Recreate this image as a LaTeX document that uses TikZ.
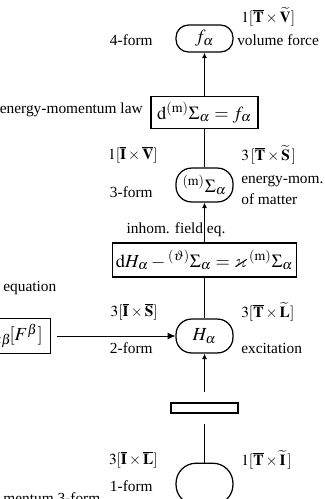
\documentclass[tikz,border=0pt]{standalone}
\usepackage{amsmath,amssymb}
\usepackage{mathptmx}
\usepackage[no-math]{fontspec}
\setmainfont{Liberation Serif}
\usetikzlibrary{arrows.meta,positioning}

\begin{document}
\begin{tikzpicture}[>=Latex,x=0.65pt,y=-0.65pt,
  formnode/.style={draw,line width=0.8pt,rounded corners=10pt,minimum width=37pt,minimum height=22pt,inner sep=1pt,font=\large},
  lawbox/.style={draw,line width=0.8pt,minimum height=20.5pt,inner sep=2pt,font=\large},
  lbl/.style={inner sep=0pt,font=\normalsize},
  arr/.style={-{Latex[length=3.6pt,width=3.2pt]},line width=0.6pt},
  link/.style={line width=0.6pt}]
\useasboundingbox (0,0) rectangle (325,499);
\clip (0,0) rectangle (325,499);
\node[formnode,minimum height=17.5pt,rounded corners=8pt] (fa) at (204.5,38.5) {$f_\alpha$};
\node[lawbox,minimum width=69.5pt] (emlaw) at (204.5,112.5) {$\mathrm{d}{}^{(\mathrm{m})}\Sigma_\alpha = f_\alpha$};
\node[formnode] (sigm) at (204.5,185) {${}^{(\mathrm{m})}\Sigma_\alpha$};
\node[lawbox,minimum width=119pt,minimum height=22pt] (fieldeq) at (204.5,260) {$\mathrm{d}H_\alpha - {}^{(\vartheta)}\Sigma_\alpha = \varkappa\,{}^{(\mathrm{m})}\Sigma_\alpha$};
\node[formnode] (hexc) at (204.5,336) {$H_\alpha$};
\node[lawbox,anchor=east,text width=40pt,align=right,inner xsep=5pt,minimum height=22.5pt] (constbox) at (51,336) {${}_{\alpha\beta}\![F^{\beta}]$};
\node[draw,line width=0.8pt,minimum width=43.5pt,minimum height=6.5pt,inner sep=0pt] (blank) at (204.5,408) {};
\node[formnode,minimum height=27pt,rounded corners=13pt] (pot) at (204.5,484) {};
% labels round the column
\node[lbl,anchor=west] (ltv) at (241,17) {$1[\overline{\mathbf{T}}\times\widetilde{\mathbf{V}}]$};
\node[lbl,anchor=east] (l4) at (153,40) {4-form};
\node[lbl,anchor=west] (lvf) at (237,40) {volume force};
\node[lbl,anchor=east] (lemlaw) at (143,110) {energy-momentum law};
\node[lbl,anchor=east] (liv) at (158,155) {$1[\overline{\mathbf{I}}\times\overline{\mathbf{V}}]$};
\node[lbl,anchor=west] (lts) at (241,155) {$3\,[\overline{\mathbf{T}}\times\widetilde{\mathbf{S}}\,]$};
\node[lbl,anchor=east] (l3) at (153,192) {3-form};
\node[lbl,anchor=west,align=left] (lmat) at (241,190) {energy-mom.\\[1.5pt]of matter};
\node[lbl] (lfield) at (176,230) {inhom. field eq.};
\node[lbl,anchor=west] (lequ) at (3,288) {equation};
\node[lbl,anchor=east] (lis) at (158,312) {$3[\overline{\mathbf{I}}\times\overline{\mathbf{S}}]$};
\node[lbl,anchor=west] (ltl) at (241,312) {$3[\overline{\mathbf{T}}\times\widetilde{\mathbf{L}}]$};
\node[lbl,anchor=east] (l2) at (153,348) {2-form};
\node[lbl,anchor=west] (lexc) at (241,348) {excitation};
\node[lbl,anchor=east] (lil) at (158,460) {$3[\overline{\mathbf{I}}\times\overline{\mathbf{L}}]$};
\node[lbl,anchor=west] (lti) at (241,460) {$1[\overline{\mathbf{T}}\times\widetilde{\mathbf{I}}\,]$};
\node[lbl,anchor=east] (l1) at (153,486) {1-form};
\node[lbl,anchor=base west] (lmom) at (3,503) {mentum 3-form};
% connectors
\draw[arr] (emlaw) -- (fa);
\draw[link] (sigm) -- (emlaw);
\draw[arr] (fieldeq) -- (sigm);
\draw[link] (hexc) -- (fieldeq);
\draw[arr,-{Latex[length=5pt,width=4.5pt]},shorten <=4pt] (constbox) -- (hexc);
\draw[arr,shorten <=6.5pt] (blank) -- (hexc);
\draw[link,shorten >=6.5pt] (pot) -- (blank);
\end{tikzpicture}
\end{document}
